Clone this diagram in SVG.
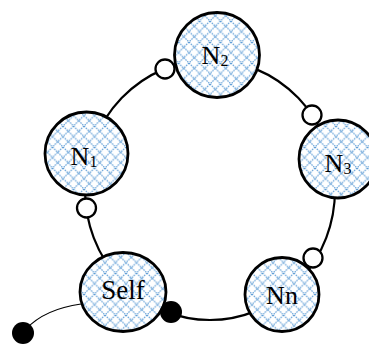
<svg xmlns="http://www.w3.org/2000/svg" width="369" height="345" viewBox="0 0 369 345">
  <defs>
    <pattern id="hatch" patternUnits="userSpaceOnUse" width="10.5" height="10.5">
      <rect width="10.5" height="10.5" fill="#ffffff"/>
      <path d="M0,0 L10.5,10.5 M10.5,0 L0,10.5" stroke="#5b9bd5" stroke-width="1.2" stroke-dasharray="1.5 1"/>
    </pattern>
    <style>
      .node { fill: url(#hatch); stroke: #000; stroke-width: 2.8; }
      .port { fill: #fff; stroke: #000; stroke-width: 2.3; }
      .dot { fill: #000; stroke: none; }
      .ring { fill: none; stroke: #000; stroke-width: 2.2; }
      .tail { fill: none; stroke: #000; stroke-width: 1.2; }
      .lbl { font-family: "Liberation Serif", "Times New Roman", serif; font-size: 26px; fill: #000; text-anchor: middle; }
      .sub { font-size: 16px; }
    </style>
  </defs>

  <g id="connectors">
    <ellipse class="ring" cx="210" cy="190" rx="125" ry="130"/>
    <path class="tail" d="M 81 304 Q 45 309 26 329"/>
  </g>

  <g id="node-N2">
    <circle class="node" cx="217" cy="55" r="42.5"/>
    <text class="lbl" x="215" y="64">N<tspan class="sub" dy="2">2</tspan></text>
  </g>
  <g id="node-N1">
    <circle class="node" cx="86.5" cy="153.5" r="41.5"/>
    <text class="lbl" x="84" y="165">N<tspan class="sub" dy="2">1</tspan></text>
  </g>
  <g id="node-N3">
    <circle class="node" cx="338" cy="159" r="39"/>
    <text class="lbl" x="338" y="172">N<tspan class="sub" dy="2">3</tspan></text>
  </g>
  <g id="node-Nn">
    <circle class="node" cx="282" cy="294.5" r="37"/>
    <text class="lbl" x="282" y="304">Nn</text>
  </g>
  <g id="node-Self">
    <ellipse class="node" cx="123" cy="292" rx="43" ry="39.5"/>
    <text class="lbl" x="123" y="299" style="font-size:27px">Self</text>
  </g>

  <g id="port-1"><circle class="port" cx="165" cy="69" r="9.5"/></g>
  <g id="port-2"><circle class="port" cx="312" cy="115" r="9.5"/></g>
  <g id="port-3"><circle class="port" cx="313" cy="258" r="9.5"/></g>
  <g id="port-4"><circle class="port" cx="86.5" cy="208" r="9.5"/></g>
  <g id="dot-self"><circle class="dot" cx="171" cy="312" r="11"/></g>
  <g id="dot-tail"><circle class="dot" cx="23" cy="333" r="11"/></g>
</svg>
